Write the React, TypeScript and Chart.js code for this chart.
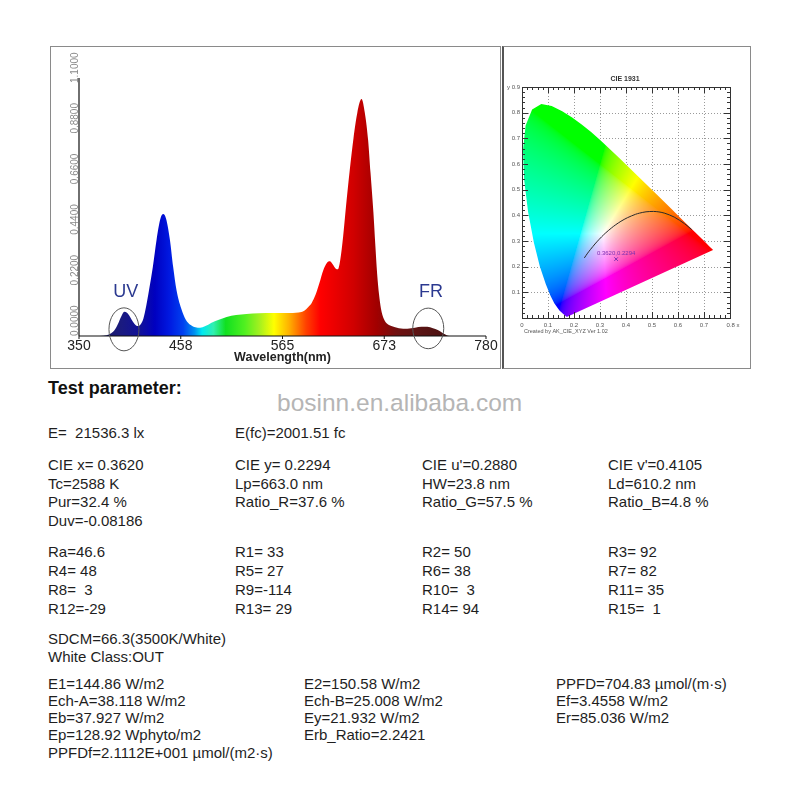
import React, { useEffect, useRef } from "react";
import { Chart, registerables } from "chart.js";
Chart.register(...registerables);

// ---------- Spectrum data ----------
const wavelengths = [
  350, 372, 379, 384, 388, 392, 395, 398, 401, 404, 407, 410, 412.5, 415, 418, 421, 424, 428, 432, 436,
  439, 442, 446, 449.5, 453, 458, 463, 468, 473, 478, 483, 490, 497, 506, 516, 527, 540, 555, 570, 582,
  588, 592, 596, 600, 604, 608, 612, 615, 618, 621, 623.5, 626, 629, 632, 636, 640, 644, 648.5, 652, 655.5,
  658, 661, 663, 665, 667, 669, 672, 675, 680, 688, 697, 705, 712, 718, 724, 729, 733, 737, 741, 780,
];
const intensities = [
  0, 0, 0.003, 0.012, 0.028, 0.06, 0.088, 0.105, 0.1, 0.083, 0.062, 0.047, 0.043, 0.05, 0.075, 0.13, 0.2, 0.3, 0.42, 0.51,
  0.53, 0.51, 0.42, 0.3, 0.2, 0.12, 0.07, 0.048, 0.038, 0.036, 0.042, 0.058, 0.07, 0.083, 0.091, 0.096, 0.099, 0.1, 0.1, 0.102,
  0.11, 0.125, 0.145, 0.18, 0.23, 0.285, 0.318, 0.325, 0.312, 0.294, 0.29, 0.33, 0.43, 0.56, 0.72, 0.86, 0.97, 1.03, 0.97, 0.85,
  0.71, 0.54, 0.4, 0.27, 0.18, 0.12, 0.075, 0.055, 0.043, 0.034, 0.032, 0.036, 0.04, 0.04, 0.034, 0.026, 0.016, 0.006, 0, 0,
];
const yTickValues = [0, 0.22, 0.44, 0.66, 0.88, 1.1];
const yTickLabels = ["0.0000", "0.2200", "0.4400", "0.6600", "0.8800", "1.1000"];
const xTickValues = [350, 457.5, 565, 672.5, 780];
const xTickLabels = ["350", "458", "565", "673", "780"];
const gradientNm = [375, 395, 415, 430, 445, 460, 472, 480, 492, 505, 525, 540, 556, 572, 590, 605, 640, 665, 685, 710, 740];
const gradientColors = [
  "#1a1a66", "#1a1a80", "#10109a", "#0000c0", "#0018e0", "#0040f0", "#0090f0", "#00e8f0", "#30f0b0", "#10e020",
  "#50f020", "#a0f020", "#ffff00", "#ffb000", "#ff4000", "#ff0000", "#d00000", "#a00000", "#701010", "#5a1515", "#4a1010",
];
const uvLabel = { text: "UV", nm: 399.5, value: 0.19 };
const frLabel = { text: "FR", nm: 722, value: 0.19 };
const uvEllipse = { nm: 397.5, value: 0.029 };
const frEllipse = { nm: 719, value: 0.033 };

// ---------- CIE 1931 data ----------
const locusX = [
  0.1741, 0.1733, 0.1714, 0.1689, 0.1644, 0.1566, 0.144, 0.1241, 0.1096, 0.0913, 0.0687, 0.0454, 0.0235, 0.0082,
  0.0039, 0.0139, 0.0389, 0.0743, 0.1142, 0.1547, 0.1929, 0.2296, 0.2658, 0.3016, 0.3373, 0.3731, 0.4087, 0.4441,
  0.4788, 0.5125, 0.5448, 0.5752, 0.6029, 0.627, 0.6658, 0.6915, 0.7079, 0.719, 0.726, 0.7334, 0.7347,
];
const locusY = [
  0.005, 0.0048, 0.0051, 0.0069, 0.0109, 0.0177, 0.0297, 0.0578, 0.0868, 0.1327, 0.2007, 0.295, 0.4127, 0.5384,
  0.6548, 0.7502, 0.812, 0.8338, 0.8262, 0.8059, 0.7816, 0.7543, 0.7243, 0.6923, 0.6589, 0.6245, 0.5896, 0.5547,
  0.5202, 0.4866, 0.4544, 0.4242, 0.3965, 0.3725, 0.334, 0.3083, 0.292, 0.2809, 0.274, 0.2666, 0.2653,
];
const planckX = [0.6528, 0.6251, 0.5857, 0.5494, 0.5267, 0.5056, 0.477, 0.452, 0.4369, 0.4053, 0.3805, 0.3608, 0.3451, 0.3221, 0.3064, 0.2952, 0.2807, 0.2637, 0.2525, 0.2399];
const planckY = [0.3444, 0.3674, 0.3931, 0.4081, 0.4133, 0.4152, 0.4137, 0.4086, 0.4041, 0.3907, 0.3768, 0.3636, 0.3516, 0.3318, 0.3166, 0.3048, 0.2884, 0.2674, 0.2528, 0.2342];
const measuredX = 0.362;
const measuredY = 0.2294;
const measuredLabel = "0.3620,0.2294";
const cieXTicks = [0, 0.1, 0.2, 0.3, 0.4, 0.5, 0.6, 0.7, 0.8];
const cieXTickLabels = ["0", "0.1", "0.2", "0.3", "0.4", "0.5", "0.6", "0.7", "0.8 x"];
const cieYTicks = [0.1, 0.2, 0.3, 0.4, 0.5, 0.6, 0.7, 0.8, 0.9];
const cieYTickLabels = ["0.1", "0.2", "0.3", "0.4", "0.5", "0.6", "0.7", "0.8", "y 0.9"];
const cieTitle = "CIE 1931";
const cieCredit = "Created by AK_CIE_XYZ Ver 1.02";

// ---------- Text parameters ----------
const illuminanceRow = ["E=  21536.3 lx", "E(fc)=2001.51 fc"];
const colorRows = [
  ["CIE x= 0.3620", "CIE y= 0.2294", "CIE u'=0.2880", "CIE v'=0.4105"],
  ["Tc=2588 K", "Lp=663.0 nm", "HW=23.8 nm", "Ld=610.2 nm"],
  ["Pur=32.4 %", "Ratio_R=37.6 %", "Ratio_G=57.5 %", "Ratio_B=4.8 %"],
  ["Duv=-0.08186"],
];
const renderRows = [
  ["Ra=46.6", "R1= 33", "R2= 50", "R3= 92"],
  ["R4= 48", "R5= 27", "R6= 38", "R7= 82"],
  ["R8=  3", "R9=-114", "R10=  3", "R11= 35"],
  ["R12=-29", "R13= 29", "R14= 94", "R15=  1"],
];
const sdcmRows = ["SDCM=66.3(3500K/White)", "White Class:OUT"];
const energyRows = [
  ["E1=144.86 W/m2", "E2=150.58 W/m2", "PPFD=704.83 µmol/(m·s)"],
  ["Ech-A=38.118 W/m2", "Ech-B=25.008 W/m2", "Ef=3.4558 W/m2"],
  ["Eb=37.927 W/m2", "Ey=21.932 W/m2", "Er=85.036 W/m2"],
  ["Ep=128.92 Wphyto/m2", "Erb_Ratio=2.2421"],
  ["PPFDf=2.1112E+001 µmol/(m2·s)"],
];

const FONT = 'Arial, "Liberation Sans", Helvetica, sans-serif';

const spectrumDecor = {
  id: "spectrumDecor",
  afterDatasetsDraw(chart: any) {
    const { ctx, scales } = chart;
    const x = scales.x, y = scales.y;
    const x0 = x.getPixelForValue(350);
    const x1 = x.getPixelForValue(780);
    const y0 = y.getPixelForValue(0);
    const yTop = y.getPixelForValue(1.1);
    ctx.save();
    ctx.strokeStyle = "#111";
    ctx.lineWidth = 1.2;
    ctx.beginPath();
    ctx.moveTo(x0, y0);
    ctx.lineTo(x1, y0);
    ctx.moveTo(x0, yTop - 5);
    ctx.lineTo(x0, y0);
    ctx.stroke();
    ctx.lineWidth = 1;
    ctx.font = `14px ${FONT}`;
    ctx.fillStyle = "#222";
    ctx.textAlign = "center";
    ctx.textBaseline = "middle";
    xTickValues.forEach((v, i) => {
      const px = x.getPixelForValue(v);
      ctx.beginPath();
      ctx.moveTo(px, y0);
      ctx.lineTo(px, y0 + 3);
      ctx.stroke();
      ctx.fillText(xTickLabels[i], px, y0 + 10.5);
    });
    ctx.font = `bold 12.5px ${FONT}`;
    ctx.fillText("Wavelength(nm)", x.getPixelForValue(565), y0 + 21.5);

    ctx.font = `10px ${FONT}`;
    ctx.fillStyle = "#8a8a8a";
    ctx.textAlign = "left";
    ctx.textBaseline = "alphabetic";
    yTickValues.forEach((v, i) => {
      const py = y.getPixelForValue(v);
      ctx.save();
      ctx.translate(x0 - 1, py);
      ctx.rotate(-Math.PI / 2);
      ctx.fillText(yTickLabels[i], 0, 0);
      ctx.restore();
    });

    ctx.strokeStyle = "#555";
    ctx.lineWidth = 1;
    [
      { e: uvEllipse, rx: 15, ry: 21.5 },
      { e: frEllipse, rx: 15.5, ry: 20.3 },
    ].forEach(({ e, rx, ry }) => {
      ctx.beginPath();
      ctx.ellipse(x.getPixelForValue(e.nm), y.getPixelForValue(e.value), rx, ry, 0, 0, Math.PI * 2);
      ctx.stroke();
    });
    ctx.font = `18px ${FONT}`;
    ctx.fillStyle = "#2b3990";
    ctx.textAlign = "center";
    ctx.textBaseline = "middle";
    [uvLabel, frLabel].forEach((l) => {
      ctx.fillText(l.text, x.getPixelForValue(l.nm), y.getPixelForValue(l.value));
    });
    ctx.restore();
  },
};

function toSrgb(c: number) {
  return c <= 0.0031308 ? 12.92 * c : 1.055 * Math.pow(c, 1 / 2.4) - 0.055;
}

const cieDecor = {
  id: "cieDecor",
  beforeDatasetsDraw(chart: any) {
    const { ctx, chartArea: a, scales } = chart;
    const x = scales.x, y = scales.y;
    ctx.save();
    // dotted grid
    ctx.strokeStyle = "#9a9a9a";
    ctx.lineWidth = 1;
    ctx.setLineDash([1, 2]);
    for (let k = 1; k < 8; k++) {
      const px = Math.round(x.getPixelForValue(k / 10)) + 0.5;
      ctx.beginPath();
      ctx.moveTo(px, a.top);
      ctx.lineTo(px, a.bottom);
      ctx.stroke();
    }
    for (let k = 1; k < 9; k++) {
      const py = Math.round(y.getPixelForValue(k / 10)) + 0.5;
      ctx.beginPath();
      ctx.moveTo(a.left, py);
      ctx.lineTo(a.right, py);
      ctx.stroke();
    }
    ctx.setLineDash([]);
    // chromaticity colours
    const w = Math.ceil(a.right - a.left);
    const h = Math.ceil(a.bottom - a.top);
    const off = document.createElement("canvas");
    off.width = w;
    off.height = h;
    const octx = off.getContext("2d")!;
    const img = octx.createImageData(w, h);
    for (let j = 0; j < h; j++) {
      const yv = y.getValueForPixel(a.top + j + 0.5);
      for (let i = 0; i < w; i++) {
        const xv = x.getValueForPixel(a.left + i + 0.5);
        if (yv <= 0.002) continue;
        const X = xv / yv;
        const Z = (1 - xv - yv) / yv;
        let r = 3.2406 * X - 1.5372 - 0.4986 * Z;
        let g = -0.9689 * X + 1.8758 + 0.0415 * Z;
        let b = 0.0557 * X - 0.204 + 1.057 * Z;
        r = Math.max(r, 0);
        g = Math.max(g, 0);
        b = Math.max(b, 0);
        const m = Math.max(r, g, b) || 1;
        const idx = (j * w + i) * 4;
        img.data[idx] = Math.round(255 * toSrgb(r / m));
        img.data[idx + 1] = Math.round(255 * toSrgb(g / m));
        img.data[idx + 2] = Math.round(255 * toSrgb(b / m));
        img.data[idx + 3] = 255;
      }
    }
    octx.putImageData(img, 0, 0);
    ctx.beginPath();
    locusX.forEach((lx, k) => {
      const px = x.getPixelForValue(lx);
      const py = y.getPixelForValue(locusY[k]);
      if (k === 0) ctx.moveTo(px, py);
      else ctx.lineTo(px, py);
    });
    ctx.closePath();
    ctx.clip();
    ctx.drawImage(off, a.left, a.top);
    ctx.restore();

    // frame and ticks
    ctx.save();
    ctx.strokeStyle = "#333";
    ctx.lineWidth = 1;
    ctx.strokeRect(Math.round(a.left) + 0.5, Math.round(a.top) + 0.5, Math.round(a.right - a.left), Math.round(a.bottom - a.top));
    ctx.beginPath();
    for (let k = 0; k <= 40; k++) {
      const v = k * 0.02;
      const px = Math.round(x.getPixelForValue(v)) + 0.5;
      const len = k % 5 === 0 ? 6 : 3;
      ctx.moveTo(px, a.bottom);
      ctx.lineTo(px, a.bottom - len);
      ctx.moveTo(px, a.top);
      ctx.lineTo(px, a.top + len);
    }
    for (let k = 0; k <= 45; k++) {
      const v = k * 0.02;
      const py = Math.round(y.getPixelForValue(v)) + 0.5;
      const len = k % 5 === 0 ? 6 : 3;
      ctx.moveTo(a.left, py);
      ctx.lineTo(a.left + len, py);
      ctx.moveTo(a.right, py);
      ctx.lineTo(a.right - len, py);
    }
    ctx.stroke();
    ctx.restore();
  },
  afterDatasetsDraw(chart: any) {
    const { ctx, chartArea: a, scales } = chart;
    const x = scales.x, y = scales.y;
    ctx.save();
    ctx.fillStyle = "#555";
    ctx.font = `6px ${FONT}`;
    ctx.textAlign = "center";
    ctx.textBaseline = "top";
    cieXTicks.forEach((v, i) => {
      ctx.fillText(cieXTickLabels[i], x.getPixelForValue(v) + (i === 8 ? 3 : 0), a.bottom + 4);
    });
    ctx.textAlign = "right";
    ctx.textBaseline = "middle";
    cieYTicks.forEach((v, i) => {
      ctx.fillText(cieYTickLabels[i], a.left - 2, y.getPixelForValue(v));
    });
    ctx.textAlign = "left";
    ctx.textBaseline = "middle";
    ctx.font = `5.5px ${FONT}`;
    ctx.fillText(cieCredit, a.left + 2, a.bottom + 13.5);
    ctx.font = `bold 7px ${FONT}`;
    ctx.fillStyle = "#333";
    ctx.textAlign = "center";
    ctx.fillText(cieTitle, (a.left + a.right) / 2 - 1, a.top - 8);
    ctx.font = `6px ${FONT}`;
    ctx.fillStyle = "#7a2fb0";
    ctx.fillText(measuredLabel, x.getPixelForValue(measuredX), y.getPixelForValue(measuredY) - 6);
    ctx.restore();
  },
};

function spectrumConfig(): any {
  return {
    type: "line",
    data: {
      datasets: [
        {
          data: wavelengths.map((w, i) => ({ x: w, y: intensities[i] })),
          fill: "origin",
          borderWidth: 0,
          borderColor: "rgba(0,0,0,0)",
          pointRadius: 0,
          cubicInterpolationMode: "monotone",
          backgroundColor: (context: any) => {
            const chart = context.chart;
            const xs = chart.scales && chart.scales.x;
            if (!chart.chartArea || !xs) return "#cc0000";
            const p0 = xs.getPixelForValue(350);
            const p1 = xs.getPixelForValue(780);
            const grad = chart.ctx.createLinearGradient(p0, 0, p1, 0);
            gradientNm.forEach((nm, i) => grad.addColorStop((nm - 350) / 430, gradientColors[i]));
            return grad;
          },
        },
      ],
    },
    options: {
      animation: false,
      responsive: false,
      maintainAspectRatio: false,
      layout: { padding: { left: 28, right: 14, top: 36, bottom: 32 } },
      plugins: { legend: { display: false }, tooltip: { enabled: false } },
      scales: {
        x: { type: "linear", min: 350, max: 780, display: false },
        y: { type: "linear", min: 0, max: 1.1, display: false },
      },
    },
    plugins: [spectrumDecor],
  };
}

function cieConfig(): any {
  return {
    type: "scatter",
    data: {
      datasets: [
        {
          data: planckX.map((px, i) => ({ x: px, y: planckY[i] })),
          showLine: true,
          borderColor: "#2a2a2a",
          borderWidth: 1,
          pointRadius: 0,
          tension: 0.3,
          fill: false,
        },
        {
          data: [{ x: measuredX, y: measuredY }],
          pointStyle: "crossRot",
          pointRadius: 2.5,
          borderColor: "#7a2fb0",
          borderWidth: 1,
        },
      ],
    },
    options: {
      animation: false,
      responsive: false,
      maintainAspectRatio: false,
      layout: { padding: { left: 17, right: 19, top: 40, bottom: 50 } },
      plugins: { legend: { display: false }, tooltip: { enabled: false } },
      scales: {
        x: { type: "linear", min: 0, max: 0.8, display: false },
        y: { type: "linear", min: 0, max: 0.9, display: false },
      },
    },
    plugins: [cieDecor],
  };
}

const textStyle: React.CSSProperties = {
  position: "absolute",
  fontFamily: FONT,
  fontSize: 15,
  lineHeight: "18px",
  color: "#1e1e1e",
  whiteSpace: "pre",
};

function Line({ x, cy, text }: { x: number; cy: number; text: string }) {
  return <div style={{ ...textStyle, left: x, top: cy - 9 }}>{text}</div>;
}

const fourCols = [48, 235, 422, 608];
const threeCols = [48, 304, 556];

export default function App() {
  const specRef = useRef<HTMLCanvasElement>(null);
  const cieRef = useRef<HTMLCanvasElement>(null);
  useEffect(() => {
    const c1 = new Chart(specRef.current as HTMLCanvasElement, spectrumConfig());
    const c2 = new Chart(cieRef.current as HTMLCanvasElement, cieConfig());
    return () => {
      c1.destroy();
      c2.destroy();
    };
  }, []);

  const colorY = [465, 483.5, 502, 520.5];
  const renderY = [551.5, 570.5, 589.5, 608.5];
  const sdcmY = [639, 657];
  const energyY = [683.5, 701, 718, 735, 752.5];

  return (
    <div style={{ position: "absolute", left: 0, top: 0, width: 800, height: 800, background: "#fff", overflow: "hidden" }}>
      <div style={{ position: "absolute", left: 50, top: 46, width: 451, height: 323, boxSizing: "border-box", border: "1px solid #8a8a8a" }} />
      <div style={{ position: "absolute", left: 502, top: 46, width: 249, height: 323, boxSizing: "border-box", border: "1px solid #8a8a8a", borderLeft: "2px solid #555" }} />
      <canvas ref={specRef} width={449} height={321} style={{ position: "absolute", left: 51, top: 47, width: 449, height: 321 }} />
      <canvas ref={cieRef} width={244} height={321} style={{ position: "absolute", left: 505, top: 47, width: 244, height: 321 }} />

      <div style={{ ...textStyle, left: 48, top: 376, fontSize: 18, lineHeight: "24px", fontWeight: "bold", color: "#111" }}>Test parameter:</div>
      <div style={{ ...textStyle, left: 277, top: 389, fontSize: 24.5, lineHeight: "28px", color: "#b5b5b5" }}>bosinn.en.alibaba.com</div>

      <Line x={fourCols[0]} cy={432.5} text={illuminanceRow[0]} />
      <Line x={fourCols[1]} cy={432.5} text={illuminanceRow[1]} />
      {colorRows.map((row, r) => row.map((t, c) => <Line key={`c${r}-${c}`} x={fourCols[c]} cy={colorY[r]} text={t} />))}
      {renderRows.map((row, r) => row.map((t, c) => <Line key={`r${r}-${c}`} x={fourCols[c]} cy={renderY[r]} text={t} />))}
      {sdcmRows.map((t, r) => <Line key={`s${r}`} x={fourCols[0]} cy={sdcmY[r]} text={t} />)}
      {energyRows.map((row, r) => row.map((t, c) => <Line key={`e${r}-${c}`} x={threeCols[c]} cy={energyY[r]} text={t} />))}
    </div>
  );
}
